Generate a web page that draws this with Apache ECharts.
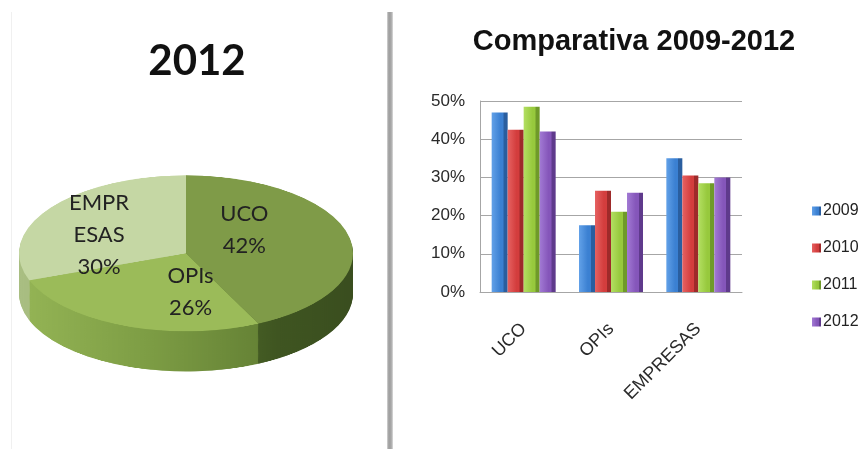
<!DOCTYPE html>
<html><head><meta charset="utf-8">
<script src="https://cdn.jsdelivr.net/npm/echarts/dist/echarts.min.js"></script>
<style>
html,body{margin:0;padding:0;background:#fff;width:866px;height:449px;overflow:hidden;}
#main{position:absolute;left:0;top:0;width:866px;height:449px;}
#pie3d{position:absolute;left:0;top:173px;width:380px;height:430px;transform:scaleY(0.467);transform-origin:0 0;}
</style></head><body>
<div id="pie3d"></div>
<div id="main"></div>
<script>
// ---- data ----
const pieCategories = ['UCO', 'OPIs', 'EMPRESAS'];
const pieLabelNames = ['UCO', 'OPIs', 'EMPR\nESAS'];
const pieValues = [42, 26, 30];
const pieTitle = '2012';

const barTitle = 'Comparativa 2009-2012';
const barCategories = ['UCO', 'OPIs', 'EMPRESAS'];
const years = ['2009', '2010', '2011', '2012'];
const values2009 = [47, 17.5, 35];
const values2010 = [42.5, 26.5, 30.5];
const values2011 = [48.5, 21, 28.5];
const values2012 = [42, 26, 30];
const yTickMin = 0, yTickMax = 50, yTickStep = 10;

// ---- pie geometry / style ----
const S = 0.467, CX = 186, CYU = 172, R = 167, DEPTH = 86, STEP = 2;
const CY_SCREEN = 173 + CYU * S;
const topColors = ['#7f9b48', '#9bbb59', '#c5d7a4'];
const sideStops = [
  [[0, '#55722c'], [0.55, '#3f5521'], [1, '#3a4e1f']],
  [[0, '#93b354'], [0.5, '#7e9e45'], [1, '#668336']],
  [[0, '#a9be82'], [1, '#9db376']]
];
function grad(stops) {
  return new echarts.graphic.LinearGradient(0, 0, 1, 0, stops.map(s => ({offset: s[0], color: s[1]})));
}

const pieSeries = [];
for (let d = DEPTH; d > 0; d -= STEP) {
  pieSeries.push({
    type: 'pie', silent: true, animation: false, radius: R, center: [CX, CYU + d],
    startAngle: 90, clockwise: true, label: {show: false}, labelLine: {show: false},
    emphasis: {disabled: true},
    data: pieValues.map((v, i) => ({value: v, name: pieCategories[i], itemStyle: {color: grad(sideStops[i])}}))
  });
}
pieSeries.push({
  type: 'pie', silent: true, animation: false, radius: R, center: [CX, CYU],
  startAngle: 90, clockwise: true, label: {show: false}, labelLine: {show: false},
  emphasis: {disabled: true},
  data: pieValues.map((v, i) => ({value: v, name: pieCategories[i], itemStyle: {color: topColors[i]}}))
});
const pieChart = echarts.init(document.getElementById('pie3d'), null, {renderer: 'canvas'});
pieChart.setOption({animation: false, series: pieSeries});

// ---- main overlay: titles, pie labels, bar chart ----
const labelOffsets = [[-26, -14], [37, 1], [-16, 5]];
const barBase = ['#3b80d2', '#d33d3d', '#97c93d', '#8556ba'];
const barLight = ['#62a1e8', '#e66262', '#b3df62', '#a27ad4'];
const barDark = ['#2a5e9f', '#9e2a2a', '#6f9a29', '#5f3a8c'];
const yearValues = [values2009, values2010, values2011, values2012];

const main = echarts.init(document.getElementById('main'), null, {renderer: 'canvas'});
main.setOption({
  animation: false,
  title: [
    {text: pieTitle, left: 197, top: 61, padding: 0, textAlign: 'center', textVerticalAlign: 'middle',
     textStyle: {fontFamily: 'Lato', fontWeight: 'bold', fontSize: 42, color: '#111'}},
    {text: barTitle, left: 634, top: 42, padding: 0, textAlign: 'center', textVerticalAlign: 'middle',
     textStyle: {fontFamily: 'Liberation Sans', fontWeight: 'bold', fontSize: 29, color: '#111'}}
  ],
  graphic: [
    {type: 'rect', shape: {x: 387, y: 12, width: 6, height: 437}, silent: true,
     style: {fill: new echarts.graphic.LinearGradient(0, 0, 1, 0, [
       {offset: 0, color: '#d6d6d6'}, {offset: 0.3, color: '#9e9e9e'}, {offset: 0.7, color: '#a8a8a8'}, {offset: 1, color: '#dcdcdc'}])}},
    {type: 'rect', shape: {x: 11, y: 12, width: 1, height: 437}, silent: true, style: {fill: '#f0f0f0'}}
  ],
  legend: {
    orient: 'vertical', left: 807, top: 198, itemWidth: 9, itemHeight: 9, itemGap: 21,
    icon: 'rect', data: years,
    textStyle: {fontFamily: 'Liberation Sans', fontSize: 16, color: '#222', padding: [0, 0, 0, -3]}
  },
  grid: {left: 480, top: 101, width: 262, height: 191, containLabel: false},
  xAxis: {
    type: 'category', data: barCategories,
    axisLine: {show: true, lineStyle: {color: '#a6a6a6'}},
    axisTick: {show: false},
    axisLabel: {rotate: 45, margin: 34, fontFamily: 'Liberation Sans', fontSize: 18, color: '#2a2a2a'}
  },
  yAxis: {
    type: 'value', min: yTickMin, max: yTickMax, interval: yTickStep,
    axisLine: {show: true, lineStyle: {color: '#a6a6a6'}},
    axisTick: {show: false},
    splitLine: {show: true, lineStyle: {color: '#a6a6a6', width: 1}},
    axisLabel: {formatter: '{value}%', margin: 15, fontFamily: 'Liberation Sans', fontSize: 17, color: '#2a2a2a'}
  },
  series: [
    {
      type: 'pie', silent: true, radius: R, center: [CX, CY_SCREEN], startAngle: 90, clockwise: true,
      legendHoverLink: false, selectedMode: false, emphasis: {disabled: true},
      itemStyle: {color: 'rgba(0,0,0,0)'},
      labelLine: {show: false},
      label: {
        show: true, position: 'inside', color: '#222', fontFamily: 'Lato', fontSize: 22, lineHeight: 32,
        formatter: p => pieLabelNames[p.dataIndex] + '\n' + p.value + '%'
      },
      labelLayout: function (params) {
        const r = params.labelRect;
        const cx = r.x + r.width / 2, cy = r.y + r.height / 2;
        const off = labelOffsets[params.dataIndex];
        return {x: cx + off[0], y: CY_SCREEN + (cy - CY_SCREEN) * S + off[1]};
      },
      data: pieValues.map((v, i) => ({value: v, name: pieCategories[i]}))
    }
  ].concat(years.map((y, i) => ({
    type: 'bar', name: y, data: yearValues[i], barWidth: 16, barGap: '0%',
    color: barBase[i],
    itemStyle: {color: new echarts.graphic.LinearGradient(0, 0, 1, 0, [
      {offset: 0, color: barLight[i]}, {offset: 0.55, color: barBase[i]},
      {offset: 0.72, color: barBase[i]}, {offset: 0.76, color: barDark[i]}, {offset: 1, color: barDark[i]}])},
    emphasis: {disabled: true}
  })))
});
</script>
</body></html>
